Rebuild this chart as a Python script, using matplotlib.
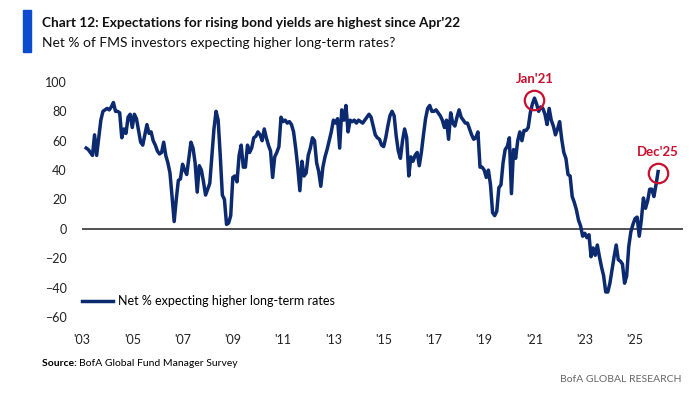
import pandas as pd
import matplotlib.pyplot as plt
from matplotlib.patches import Rectangle

plt.rcParams['font.family'] = ['Lato', 'DejaVu Sans']

# monthly net % of FMS investors expecting higher long-term rates, Mar 2003 - Dec 2025
y2003 = [55, 54, 52, 50, 64, 50, 62, 74, 80, 81]
y2004 = [82, 81, 83, 86, 80, 80, 79, 62, 68, 65, 76, 78]
y2005 = [69, 78, 75, 67, 59, 57, 64, 71, 65, 66, 60, 57]
y2006 = [53, 51, 52, 59, 50, 45, 38, 22, 5, 20, 33, 34]
y2007 = [44, 40, 37, 48, 59, 55, 45, 25, 43, 40, 32, 23]
y2008 = [27, 31, 50, 68, 80, 74, 50, 23, 20, 3, 4, 9]
y2009 = [35, 36, 32, 50, 57, 42, 42, 57, 52, 55, 62, 63]
y2010 = [66, 64, 60, 68, 62, 57, 53, 35, 49, 52, 56, 76]
y2011 = [73, 74, 72, 73, 71, 66, 55, 42, 26, 46, 36, 38]
y2012 = [50, 55, 62, 60, 45, 39, 29, 42, 49, 54, 60, 66]
y2013 = [74, 72, 75, 55, 81, 74, 84, 66, 74, 73, 74, 72]
y2014 = [74, 73, 72, 74, 76, 78, 76, 70, 64, 62, 61, 57]
y2015 = [56, 62, 70, 77, 80, 77, 63, 53, 48, 60, 68, 62]
y2016 = [36, 49, 46, 50, 52, 43, 52, 64, 75, 82, 84, 80]
y2017 = [80, 81, 79, 77, 74, 69, 74, 61, 79, 72, 70, 76]
y2018 = [81, 76, 74, 72, 72, 68, 64, 61, 62, 66, 42, 42]
y2019 = [40, 35, 40, 30, 11, 9, 12, 28, 30, 45, 54, 56]
y2020 = [62, 24, 54, 48, 60, 66, 60, 67, 67, 69, 79, 85]
y2021 = [89, 85, 80, 83, 82, 78, 71, 82, 74, 70, 64, 68]
y2022 = [73, 61, 52, 48, 37, 36, 22, 18, 13, 6, 2, -5]
y2023 = [-3, -6, -4, -19, -13, -18, -11, -19, -26, -32, -43, -43]
y2024 = [-37, -28, -19, -11, -21, -22, -24, -37, -32, -12, -2, 3]
y2025 = [7, 8, -5, 6, 21, 14, 19, 27, 27, 22, 30, 39]

values = (y2003 + y2004 + y2005 + y2006 + y2007 + y2008 + y2009 + y2010 + y2011
          + y2012 + y2013 + y2014 + y2015 + y2016 + y2017 + y2018 + y2019 + y2020
          + y2021 + y2022 + y2023 + y2024 + y2025)
dates = pd.date_range("2003-03-01", periods=len(values), freq="MS")

tick_years = list(range(2003, 2026, 2))
tick_labels = ["'" + str(y)[2:] for y in tick_years]
y_ticks = [-60, -40, -20, 0, 20, 40, 60, 80, 100]

callouts = ["Jan'21", "Dec'25"]
callout_dates = ["2021-01-01", "2025-12-01"]

navy = "#0b2a6f"
red = "#c8102e"

df = pd.DataFrame({"date": dates, "value": values})
df["x"] = df["date"].dt.year + (df["date"].dt.month - 1) / 12

fig = plt.figure(figsize=(6.93, 3.95), dpi=100)
ax = fig.add_axes([0.1183, 0.1975, 0.867, 0.595])

ax.plot(df["x"], df["value"], color=navy, lw=2.5, solid_joinstyle="round",
        label="Net % expecting higher long-term rates")
ax.axhline(0, color="#333333", lw=1.2, zorder=1)

for lab, d in zip(callouts, callout_dates):
    row = df[df["date"] == pd.Timestamp(d)].iloc[0]
    ax.plot(row["x"], row["value"] - 1, marker="o", ms=14, mfc="none",
            mec=red, mew=1.6, clip_on=False)
    ax.annotate(lab, (row["x"], row["value"]), xytext=(0, 14),
                textcoords="offset points", ha="center", va="center",
                color=red, fontsize=9.5, fontweight="bold")

ax.set_xlim(2003.0, 2026.9)
ax.set_ylim(-60, 100)
ax.set_xticks(tick_years)
ax.set_xticklabels(tick_labels)
ax.set_yticks(y_ticks)
ax.tick_params(length=0, labelsize=9, colors="#222222")
ax.tick_params(axis="y", pad=11)
ax.tick_params(axis="x", pad=12)
for s in ax.spines.values():
    s.set_visible(False)

ax.legend(loc="center left", bbox_to_anchor=(0, 0.068), frameon=False,
          fontsize=9, handlelength=2.5, handletextpad=0.4,
          borderpad=0, borderaxespad=0)

# header
fig.patches.append(Rectangle((23 / 693, 1 - 52 / 395), 8 / 693, 42 / 395,
                             transform=fig.transFigure, color="#0a4bd0"))
fig.text(42 / 693, 1 - 23 / 395,
         "Chart 12: Expectations for rising bond yields are highest since Apr'22",
         fontsize=9.8, fontweight="bold", va="center", color="#111111")
fig.text(42 / 693, 1 - 43 / 395,
         "Net % of FMS investors expecting higher long-term rates?",
         fontsize=10, va="center", color="#111111")

# footer
src = fig.text(42 / 693, 1 - 364 / 395, "Source: ", fontsize=7.5,
               fontweight="bold", va="center")
r = fig.canvas.get_renderer()
bb = src.get_window_extent(renderer=r)
fig.text(bb.x1 / fig.bbox.width, 1 - 364 / 395, "BofA Global Fund Manager Survey",
         fontsize=7.5, va="center")
fig.text(682 / 693, 1 - 380 / 395, "BofA GLOBAL RESEARCH", fontsize=7.5,
         va="center", ha="right", color="#666666")

fig.savefig("out.png", dpi=100)
